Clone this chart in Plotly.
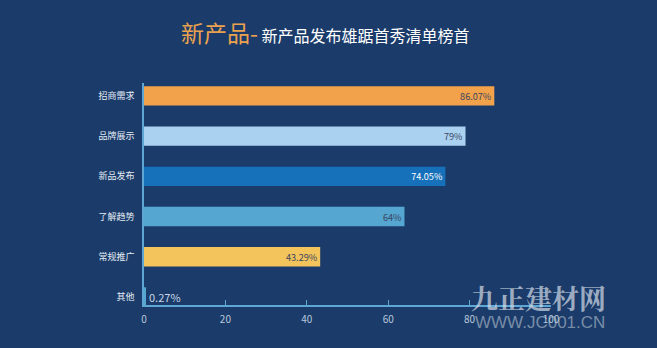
import plotly.graph_objects as go

categories = ["招商需求", "品牌展示", "新品发布", "了解趋势", "常规推广", "其他"]
values = [86.07, 79, 74.05, 64, 43.29, 0.27]
value_labels = ["86.07%", "79%", "74.05%", "64%", "43.29%", "0.27%"]
bar_colors = ["#F2A24B", "#AAD1F0", "#1670BA", "#55A6D1", "#F3C45B", "#55A6D1"]
label_colors = ["#3A4560", "#3A4560", "#FFFFFF", "#3A4560", "#3A4560", "#C8D6E6"]
tick_values = [0, 20, 40, 60, 80, 100]

BG = "#1B3C6A"
FONT = "Noto Sans CJK SC"

W, H = 657, 348
L, R, T, B = 144, 106, 83, 43
PW, PH = W - L - R, H - T - B


def px_to_paper(px, py):
    """Convert pixel positions (from top-left of the page) to paper coords."""
    return (px - L) / PW, (H - B - py) / PH


fig = go.Figure()
fig.add_trace(go.Bar(
    x=values,
    y=categories,
    orientation="h",
    marker=dict(color=bar_colors, line=dict(width=0)),
    text=value_labels,
    textposition=["inside"] * 5 + ["outside"],
    insidetextanchor="end",
    textfont=dict(color=label_colors, size=11, family=FONT),
    cliponaxis=False,
    width=0.48,
))

title_x, title_y = px_to_paper(325, 32)
wm1_x, wm1_y = px_to_paper(538, 297)
wm2_x, wm2_y = px_to_paper(540, 322)

fig.update_layout(
    width=W,
    height=H,
    paper_bgcolor=BG,
    plot_bgcolor=BG,
    margin=dict(l=L, r=R, t=T, b=B),
    showlegend=False,
    font=dict(family=FONT, color="#C9D6E6"),
    xaxis=dict(
        range=[0, 100],
        tickvals=tick_values,
        showgrid=False,
        zeroline=False,
        showline=True,
        linecolor="#5EA6D4",
        linewidth=1.5,
        ticks="inside",
        ticklen=5,
        tickcolor="#5EA6D4",
        tickfont=dict(size=10, color="#B8C8DC", family=FONT),
        ticklabelstandoff=4,
    ),
    yaxis=dict(
        categoryorder="array",
        categoryarray=categories,
        range=[5.2, -0.32],
        showgrid=False,
        zeroline=False,
        showline=True,
        linecolor="#5EA6D4",
        linewidth=1.5,
        ticks="",
        tickfont=dict(size=9, color="#E4ECF5", family=FONT),
        ticklabelstandoff=6,
    ),
    annotations=[
        dict(
            x=title_x, y=title_y, xref="paper", yref="paper",
            text="<span style='font-size:23px;color:#EBA24E'>新产品-</span>"
                 "<span style='font-size:16px;color:#FFFFFF'> 新产品发布雄踞首秀清单榜首</span>",
            showarrow=False, xanchor="center", yanchor="middle",
            font=dict(family=FONT),
        ),
        dict(
            x=wm1_x, y=wm1_y, xref="paper", yref="paper",
            text="<b>九正建材网</b>",
            showarrow=False, xanchor="center", yanchor="middle",
            font=dict(family="Noto Serif CJK SC, Noto Sans CJK SC", size=27,
                      color="rgba(215,222,232,0.7)"),
        ),
        dict(
            x=wm2_x, y=wm2_y, xref="paper", yref="paper",
            text="WWW.JC001.CN",
            showarrow=False, xanchor="center", yanchor="middle",
            font=dict(family="Liberation Sans", size=17,
                      color="rgba(200,210,222,0.55)"),
        ),
    ],
)

fig.write_html("out.html")
